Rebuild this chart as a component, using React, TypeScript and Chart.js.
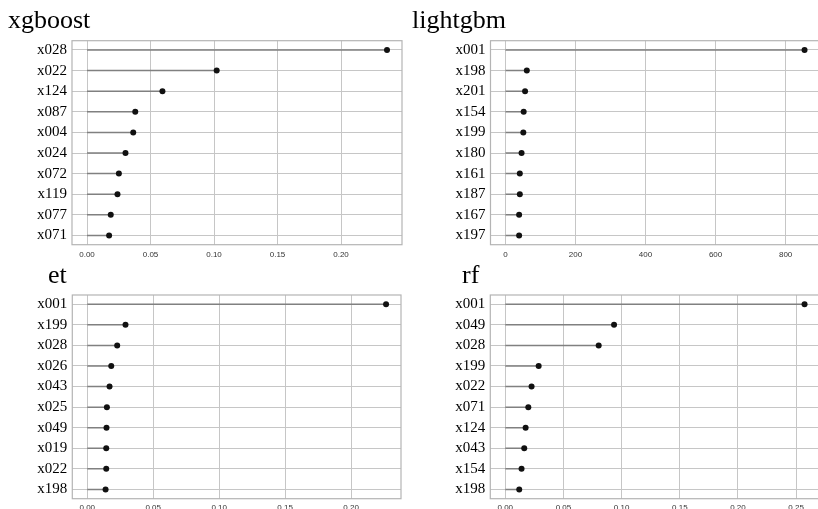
import React, { useEffect, useRef } from 'react';
import { Chart, registerables } from 'chart.js';

Chart.register(...registerables);

// ---- data ----
const xgbLabels = ['x028', 'x022', 'x124', 'x087', 'x004', 'x024', 'x072', 'x119', 'x077', 'x071'];
const xgbValues = [0.2362, 0.1021, 0.0594, 0.038, 0.0364, 0.0303, 0.0251, 0.024, 0.0187, 0.0174];

const lgbLabels = ['x001', 'x198', 'x201', 'x154', 'x199', 'x180', 'x161', 'x187', 'x167', 'x197'];
const lgbValues = [854, 61, 56, 52, 51, 46, 41, 41, 39, 39];

const etLabels = ['x001', 'x199', 'x028', 'x026', 'x043', 'x025', 'x049', 'x019', 'x022', 'x198'];
const etValues = [0.2265, 0.029, 0.0227, 0.0182, 0.0169, 0.0149, 0.0146, 0.0144, 0.0144, 0.0139];

const rfLabels = ['x001', 'x049', 'x028', 'x199', 'x022', 'x071', 'x124', 'x043', 'x154', 'x198'];
const rfValues = [0.2572, 0.0935, 0.0803, 0.0287, 0.0226, 0.0198, 0.0175, 0.0163, 0.014, 0.012];

const titles = ['xgboost', 'lightgbm', 'et', 'rf'];

type PanelProps = {
  labels: string[];
  values: number[];
  step: number;
  decimals: number;
  left: number;
  top: number;
  width: number;
  height: number;
  padTop: number;
  padRight: number;
  yAxisWidth: number;
  xAxisHeight: number;
  xTickPad: number;
};

const framePlugin = {
  id: 'frame',
  beforeDatasetsDraw(chart: any) {
    const { ctx, chartArea: a } = chart;
    ctx.save();
    ctx.strokeStyle = '#b4b4b4';
    ctx.lineWidth = 1.2;
    ctx.strokeRect(a.left, a.top, a.right - a.left, a.bottom - a.top);
    ctx.restore();
  },
};

function Panel(p: PanelProps) {
  const ref = useRef<HTMLCanvasElement>(null);
  useEffect(() => {
    const stems: any[] = [];
    p.values.forEach((v, i) => {
      stems.push({ x: 0, y: i }, { x: v, y: i }, { x: null, y: null });
    });
    const dots = p.values.map((v, i) => ({ x: v, y: i }));
    const maxV = Math.max(...p.values);
    const chart = new Chart(ref.current as HTMLCanvasElement, {
      type: 'line',
      data: {
        datasets: [
          {
            data: stems,
            borderColor: '#808080',
            borderWidth: 1.5,
            pointRadius: 0,
            spanGaps: false,
            order: 2,
          } as any,
          {
            data: dots,
            showLine: false,
            pointRadius: 3,
            pointBackgroundColor: '#111111',
            pointBorderColor: '#111111',
            pointBorderWidth: 0,
            order: 1,
          } as any,
        ],
      },
      options: {
        responsive: false,
        maintainAspectRatio: false,
        animation: false,
        events: [],
        layout: { padding: { top: p.padTop, right: p.padRight, left: 0, bottom: 0 } },
        plugins: {
          legend: { display: false },
          tooltip: { enabled: false },
          title: { display: false },
        },
        scales: {
          x: {
            type: 'linear',
            min: -0.05 * maxV,
            max: 1.05 * maxV,
            border: { display: false },
            grid: { color: '#c6c6c6', lineWidth: 1, drawTicks: false },
            ticks: {
              stepSize: p.step,
              includeBounds: false,
              autoSkip: false,
              maxRotation: 0,
              padding: p.xTickPad,
              color: '#333333',
              font: { family: 'Liberation Sans', size: 8 },
              callback: (v: any) => Number(v).toFixed(p.decimals),
            },
            afterFit: (s: any) => {
              s.height = p.xAxisHeight;
            },
          } as any,
          y: {
            type: 'linear',
            reverse: true,
            min: -0.45,
            max: 9.45,
            border: { display: false },
            grid: { color: '#c6c6c6', lineWidth: 1, drawTicks: false },
            ticks: {
              stepSize: 1,
              includeBounds: false,
              autoSkip: false,
              padding: 5,
              color: '#000000',
              font: { family: 'Liberation Serif', size: 15 },
              callback: (v: any) => (Number.isInteger(v) ? p.labels[v] ?? '' : ''),
            },
            afterFit: (s: any) => {
              s.width = p.yAxisWidth;
            },
          } as any,
        },
      },
      plugins: [framePlugin],
    });
    return () => chart.destroy();
  }, []);
  return (
    <canvas
      ref={ref}
      width={p.width}
      height={p.height}
      style={{ position: 'absolute', left: p.left, top: p.top, width: p.width, height: p.height }}
    />
  );
}

const titleStyle = (left: number, top: number): React.CSSProperties => ({
  position: 'absolute',
  left,
  top,
  fontFamily: '"Liberation Serif", serif',
  fontSize: 26,
  lineHeight: '26px',
  color: '#000',
  whiteSpace: 'nowrap',
});

export default function App() {
  return (
    <div
      style={{
        position: 'absolute',
        left: 0,
        top: 0,
        width: 818,
        height: 509,
        overflow: 'hidden',
        background: '#ffffff',
      }}
    >
      <Panel
        labels={xgbLabels}
        values={xgbValues}
        step={0.05}
        decimals={2}
        left={0}
        top={0}
        width={409}
        height={262}
        padTop={40.7}
        padRight={7}
        yAxisWidth={72}
        xAxisHeight={17.3}
        xTickPad={5}
      />
      <Panel
        labels={lgbLabels}
        values={lgbValues}
        step={200}
        decimals={0}
        left={409}
        top={0}
        width={450}
        height={262}
        padTop={40.7}
        padRight={39.5}
        yAxisWidth={81.5}
        xAxisHeight={17.3}
        xTickPad={5}
      />
      <Panel
        labels={etLabels}
        values={etValues}
        step={0.05}
        decimals={2}
        left={0}
        top={255}
        width={409}
        height={262}
        padTop={40}
        padRight={8}
        yAxisWidth={72.3}
        xAxisHeight={18.3}
        xTickPad={4}
      />
      <Panel
        labels={rfLabels}
        values={rfValues}
        step={0.05}
        decimals={2}
        left={409}
        top={255}
        width={450}
        height={262}
        padTop={40}
        padRight={39.5}
        yAxisWidth={81.3}
        xAxisHeight={18.3}
        xTickPad={4}
      />
      <div style={titleStyle(8, 6.6)}>{titles[0]}</div>
      <div style={titleStyle(412, 6.6)}>{titles[1]}</div>
      <div style={titleStyle(48, 261.5)}>{titles[2]}</div>
      <div style={titleStyle(462, 261.5)}>{titles[3]}</div>
    </div>
  );
}
